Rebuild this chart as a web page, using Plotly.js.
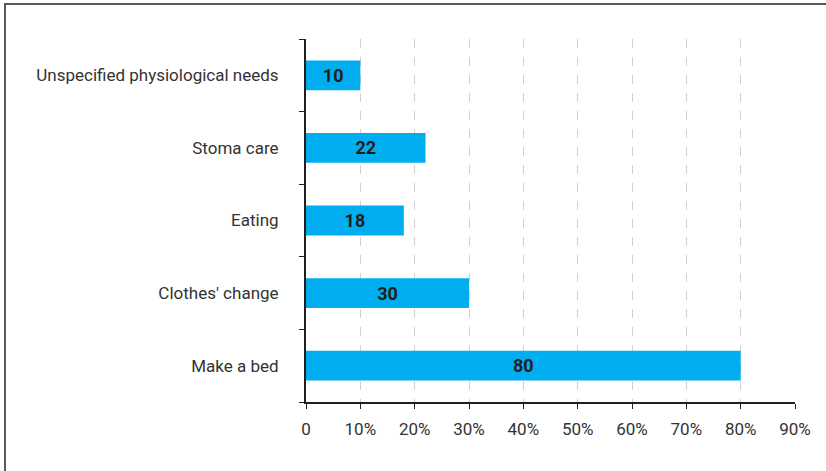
<!DOCTYPE html>
<html>
<head>
<meta charset="utf-8">
<script src="https://cdn.plot.ly/plotly-3.0.1.min.js"></script>
<style>
  html, body { margin: 0; padding: 0; background: #fff; }
  #frame { position: absolute; left: 4px; top: 3px; width: 830px; height: 480px;
           border-left: 2px solid #5a5a5a; border-top: 2px solid #5a5a5a; }
  #chart { position: absolute; left: 0; top: 0; width: 826px; height: 471px; }
</style>
</head>
<body>
<div id="frame"></div>
<div id="chart"></div>
<script>
const categories = ["Make a bed", "Clothes' change", "Eating", "Stoma care", "Unspecified physiological needs"];
const values = [80, 30, 18, 22, 10];
const tickValues = [0, 10, 20, 30, 40, 50, 60, 70, 80, 90];
const tickLabels = ["0", "10%", "20%", "30%", "40%", "50%", "60%", "70%", "80%", "90%"];

const fontFamily = '"Roboto", "Liberation Sans", sans-serif';

const trace = {
  type: 'bar',
  orientation: 'h',
  y: categories,
  x: values,
  text: values.map(String),
  textposition: 'inside',
  insidetextanchor: 'middle',
  textangle: 0,
  textfont: { family: fontFamily, size: 18, color: '#231f20', weight: 'bold' },
  marker: { color: '#00aeef' },
  width: 0.41,
  hoverinfo: 'none'
};

const layout = {
  width: 826, height: 471,
  margin: { l: 306, r: 31, t: 39, b: 69, pad: 0 },
  paper_bgcolor: 'rgba(0,0,0,0)',
  plot_bgcolor: 'rgba(0,0,0,0)',
  showlegend: false,
  font: { family: fontFamily, size: 17, color: '#333' },
  xaxis: {
    range: [0, 90],
    tickvals: tickValues,
    ticktext: tickLabels,
    showgrid: true,
    gridcolor: '#d0d0d0',
    griddash: 'dash',
    gridwidth: 1,
    zeroline: false,
    showline: true,
    linecolor: '#231f20',
    linewidth: 2,
    ticks: 'outside',
    ticklen: 5,
    tickcolor: '#231f20',
    tickwidth: 1,
    ticklabelstandoff: 6,
    tickfont: { family: fontFamily, size: 17, color: '#333' },
    fixedrange: true
  },
  yaxis: {
    type: 'category',
    categoryorder: 'array',
    categoryarray: categories,
    showgrid: false,
    zeroline: false,
    showline: true,
    linecolor: '#231f20',
    linewidth: 2,
    ticks: 'outside',
    tickson: 'boundaries',
    ticklen: 5,
    tickcolor: '#231f20',
    tickwidth: 1,
    ticklabelstandoff: 22,
    tickfont: { family: fontFamily, size: 17, color: '#333' },
    fixedrange: true
  }
};

Plotly.newPlot('chart', [trace], layout, { displayModeBar: false, staticPlot: true });
</script>
</body>
</html>
